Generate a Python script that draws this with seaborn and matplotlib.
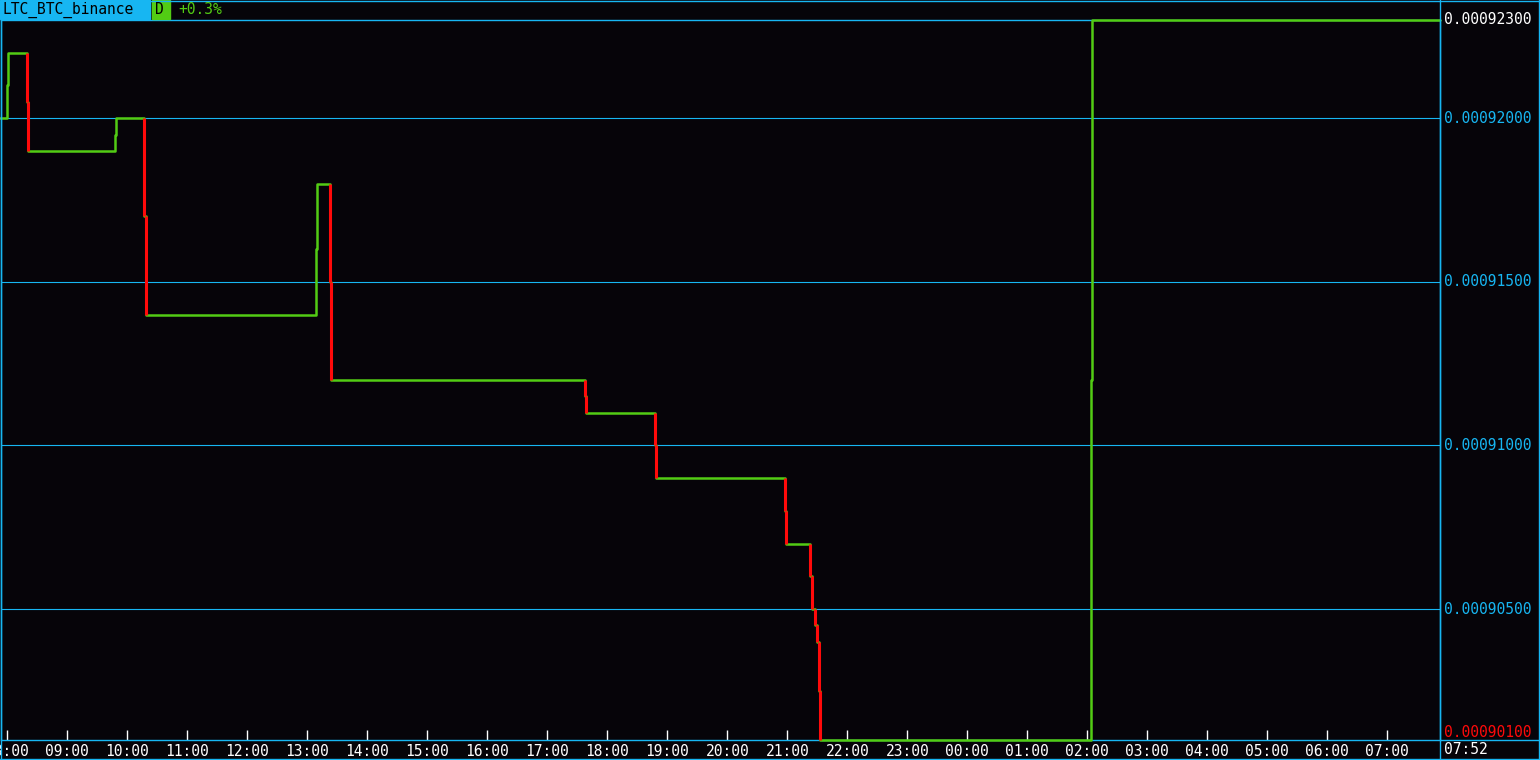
import pandas as pd
import seaborn as sns
import matplotlib.pyplot as plt
import matplotlib.dates as mdates
from matplotlib.patches import Rectangle
from matplotlib.lines import Line2D

# --- data: minute offsets from 08:00 and the price after each change ---
start = pd.Timestamp("2018-05-14 08:00")
minutes = [-7, 0, 1, 20, 21, 108, 109, 137, 139, 309, 310, 323, 324,
           578, 579, 648, 649, 778, 779, 803, 805, 808, 810, 812, 813,
           1084, 1085, 1433]
prices = [0.00092000, 0.00092100, 0.00092200, 0.00092050, 0.00091900,
          0.00091950, 0.00092000, 0.00091700, 0.00091400, 0.00091600,
          0.00091800, 0.00091500, 0.00091200, 0.00091150, 0.00091100,
          0.00091000, 0.00090900, 0.00090800, 0.00090700, 0.00090600,
          0.00090500, 0.00090450, 0.00090400, 0.00090250, 0.00090100,
          0.00091200, 0.00092300, 0.00092300]
grid_levels = [0.00090500, 0.00091000, 0.00091500, 0.00092000]
last_price = 0.00092300
low_price = 0.00090100
last_time = "07:52"
symbol = "LTC_BTC_binance"
period = "D"
change = "+0.3%"

BG = "#060409"
CYAN = "#17b6f2"
GREEN = "#52cc14"
RED = "#ff0a0a"
W, H = 1540, 760

df = pd.DataFrame({"time": [start + pd.Timedelta(minutes=m) for m in minutes],
                   "price": prices})

sns.set_theme(style="dark", rc={"axes.facecolor": BG, "figure.facecolor": BG})
plt.rcParams["font.family"] = ["DejaVu Sans Mono"]
FS = 10.5

fig = plt.figure(figsize=(W / 100, H / 100), dpi=100, facecolor=BG)
ax = fig.add_axes([1 / W, 20 / H, 1439 / W, 720 / H])
ax.set_facecolor(BG)

# horizontal grid
for lvl in grid_levels:
    ax.axhline(lvl, color=CYAN, lw=0.8, zorder=1)

# price line: steps in green, falling moves over-drawn in red
sns.lineplot(data=df, x="time", y="price", drawstyle="steps-post",
             color=GREEN, lw=1.8, ax=ax, zorder=3, estimator=None, clip_on=False)
for i in range(1, len(df)):
    if df.price[i] < df.price[i - 1]:
        ax.vlines(df.time[i], df.price[i], df.price[i - 1], color=RED,
                  lw=2.2, zorder=4, clip_on=False)

ax.set_xlim(start - pd.Timedelta(minutes=6.3), start + pd.Timedelta(minutes=1432.7))
ax.set_ylim(low_price, last_price)
ax.set_xlabel("")
ax.set_ylabel("")
ax.set_yticks([])
ax.xaxis.set_major_locator(mdates.HourLocator())
ax.xaxis.set_major_formatter(mdates.DateFormatter("%H:%M"))
ax.tick_params(axis="x", direction="in", length=7.5, width=1, color="white",
               labelcolor="white", labelsize=FS, pad=3, bottom=True)
for s in ax.spines.values():
    s.set_color(CYAN)
    s.set_linewidth(1)
    s.set_zorder(2)

# right-hand price labels
ytr = ax.get_yaxis_transform()
for lvl in grid_levels:
    ax.text(1.0025, lvl, f"{lvl:.8f}", color=CYAN, fontsize=FS,
            va="center", ha="left", transform=ytr, clip_on=False)
ax.text(1.0025, last_price, f"{last_price:.8f}", color="white", fontsize=FS,
        va="center", ha="left", transform=ytr, clip_on=False)
ax.text(1.0025, low_price, f"{low_price:.8f}", color=RED, fontsize=FS,
        va="bottom", ha="left", transform=ytr, clip_on=False)


def fx(px):
    return px / W


def fy(py):
    return 1 - py / H


# frame lines
for x0, y0, x1, y1 in [(0, 0.5, W, 0.5), (1440, 740, W, 740), (0, 759, W, 759),
                       (0.5, 0, 0.5, H), (1440, 0, 1440, H), (1539, 0, 1539, H)]:
    fig.add_artist(Line2D([fx(x0), fx(x1)], [fy(y0), fy(y1)], color=CYAN, lw=1))

# header
fig.add_artist(Rectangle((fx(0), fy(19)), fx(150), 19 / H, color=CYAN,
                         transform=fig.transFigure))
fig.add_artist(Rectangle((fx(152), fy(19)), fx(18), 19 / H, color=GREEN,
                         transform=fig.transFigure))
fig.text(fx(3), fy(10), symbol, color="black", fontsize=FS, va="center")
fig.text(fx(155), fy(10), period, color="black", fontsize=FS, va="center")
fig.text(fx(178), fy(10), change, color=GREEN, fontsize=FS, va="center")
fig.text(fx(1444), fy(750), last_time, color="white", fontsize=FS, va="center")

fig.savefig("out.png", dpi=100, facecolor=BG)
